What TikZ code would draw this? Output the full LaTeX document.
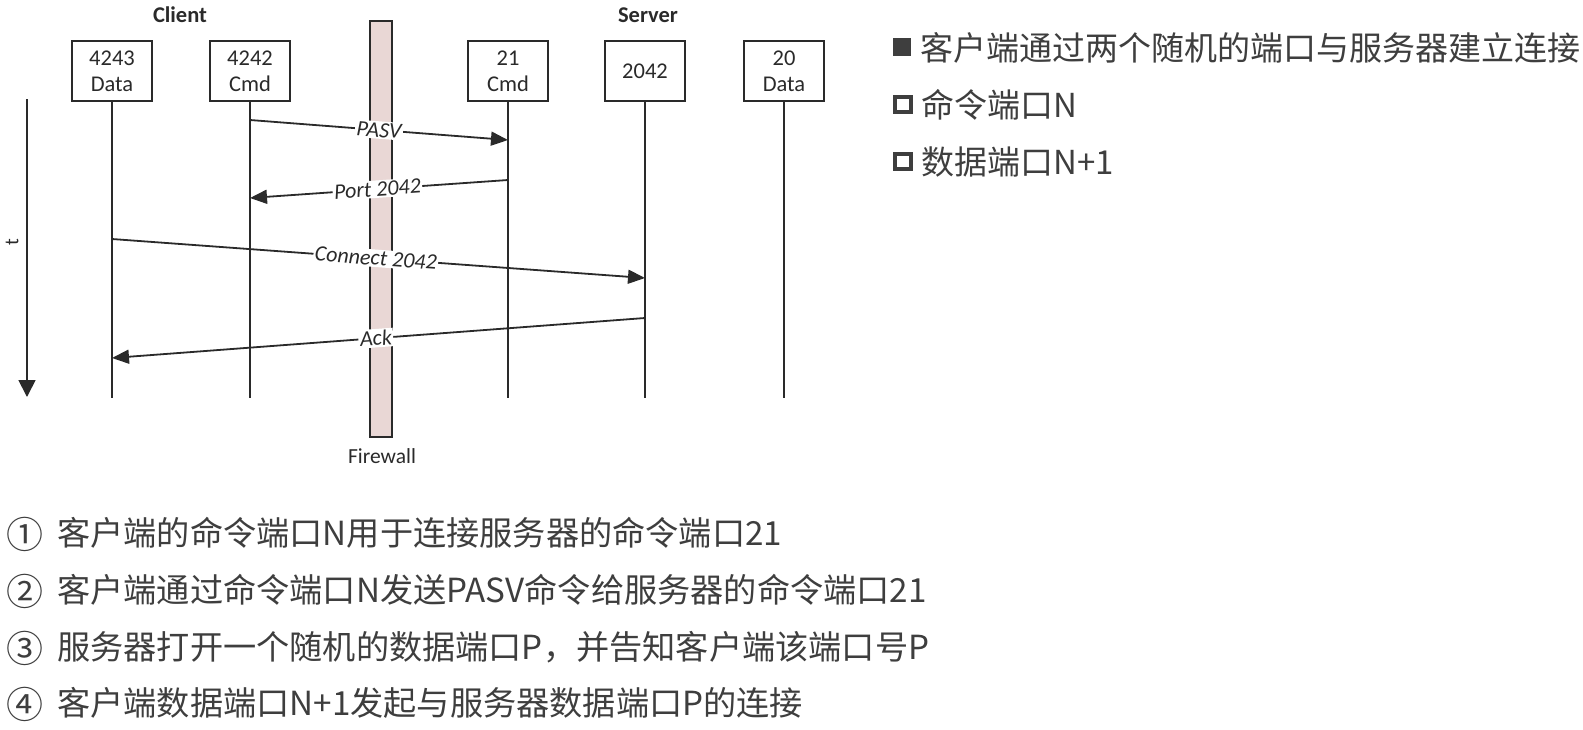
\documentclass[tikz,border=0pt]{standalone}
\usepackage{fontspec}
\setmainfont{Carlito}
\newfontfamily\cjk{Noto Sans CJK SC}
\usetikzlibrary{arrows.meta}
\definecolor{ink}{HTML}{2A2A2A}
\definecolor{txt}{HTML}{3E3E3E}
\definecolor{wall}{HTML}{E9D7D5}
\begin{document}
\begin{tikzpicture}[x=1pt,y=-1pt,
  port/.style={draw=ink, line width=2.2pt, minimum width=80pt, minimum height=60pt,
    align=center, inner sep=0pt, text=ink, font=\fontsize{22.5}{26}\selectfont},
  life/.style={draw=ink, line width=1.8pt},
  msg/.style={draw=ink, line width=1.8pt, -{Triangle[length=17pt,width=14pt]}},
  lbl/.style={fill=white, inner sep=1.5pt, sloped, text=ink,
    font=\fontsize{22}{24}\selectfont\itshape},
  side/.style={text=ink, font=\fontsize{22.5}{24}\selectfont\bfseries},
  note/.style={anchor=west, inner sep=0pt, text=txt, font=\cjk\fontsize{33}{38}\selectfont},
  steptext/.style={anchor=west, inner sep=0pt, text=txt, font=\cjk\fontsize{33.2}{38}\selectfont},
  num/.style={inner sep=0pt, text=txt, font=\cjk\fontsize{37}{40}\selectfont}
]
\useasboundingbox (0,0) rectangle (1583,729);

% column headings
\node[side] (client) at (180,15) {Client};
\node[side] (server) at (648,15) {Server};

% firewall strip
\draw[draw=ink, line width=1.8pt, fill=wall] (370,21) rectangle (392,437);
\node[text=ink, font=\fontsize{21.5}{24}\selectfont] (fwl) at (382,456) {Firewall};

% ports
\node[port] (dC) at (112,71) {4243\\Data};
\node[port] (cC) at (250,71) {4242\\Cmd};
\node[port] (cS) at (508,71) {21\\Cmd};
\node[port] (pS) at (645,71) {2042};
\node[port] (dS) at (784,71) {20\\Data};

% lifelines
\coordinate (bottom) at (0,398);
\foreach \p in {dC,cC,cS,pS,dS}
  \draw[life] (\p.south) -- (\p.south |- bottom);

% time axis
\coordinate (t0) at (27,99);
\coordinate (t1) at (27,397);
\draw[draw=ink, line width=1.8pt, -{Triangle[length=17pt,width=17pt]}] (t0) -- (t1);
\node[rotate=90, text=ink, font=\fontsize{20}{22}\selectfont] (tl) at (12,242) {t};

% message rows
\coordinate (r120) at (0,120);
\coordinate (r140) at (0,140);
\coordinate (r180) at (0,180);
\coordinate (r198) at (0,198);
\coordinate (r239) at (0,239);
\coordinate (r278) at (0,278);
\coordinate (r318) at (0,318);
\coordinate (r358) at (0,358);

\draw[msg] (cC.south |- r120) -- node[lbl, pos=0.5] {PASV} (cS.south |- r140);
\draw[msg] (cS.south |- r180) -- node[lbl, pos=0.506] {Port 2042} (cC.south |- r198);
\draw[msg] (dC.south |- r239) -- node[lbl, pos=0.495] {Connect 2042} (pS.south |- r278);
\draw[msg] (pS.south |- r318) -- node[lbl, pos=0.505] {Ack} (dC.south |- r358);

% summary on the right
\fill[txt] (893,38) rectangle (911,56);
\node[note] (r1) at (920,47.5) {客户端通过两个随机的端口与服务器建立连接};
\draw[txt, line width=4pt] (894.5,96.5) rectangle (910.5,111.5);
\node[note] (r2) at (921,105) {命令端口N};
\draw[txt, line width=4pt] (894.5,153.5) rectangle (910.5,168.5);
\node[note] (r3) at (921,162) {数据端口N+1};

% numbered steps
\node[num] (n1) at (25,534) {①};
\node[steptext] (s1) at (57,533) {客户端的命令端口N用于连接服务器的命令端口21};
\node[num] (n2) at (25,591) {②};
\node[steptext] (s2) at (57,590) {客户端通过命令端口N发送PASV命令给服务器的命令端口21};
\node[num] (n3) at (25,648) {③};
\node[steptext] (s3) at (57,647) {服务器打开一个随机的数据端口P，并告知客户端该端口号P};
\node[num] (n4) at (25,704) {④};
\node[steptext] (s4) at (57,703) {客户端数据端口N+1发起与服务器数据端口P的连接};
\end{tikzpicture}
\end{document}
